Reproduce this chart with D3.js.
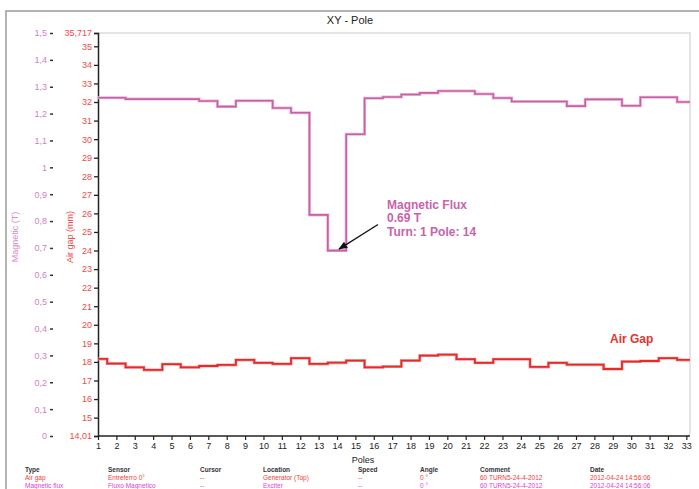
<!DOCTYPE html>
<html><head><meta charset="utf-8">
<script src="https://cdn.jsdelivr.net/npm/d3@7"></script>
<style>
html,body{margin:0;padding:0;background:#fff;}
svg{display:block;font-family:"Liberation Sans",Arial,sans-serif;}
</style></head>
<body><svg id="c" width="699" height="489"></svg>
<script>
const poles = d3.range(1, 34);
const magneticFlux = [1.259,1.259,1.254,1.254,1.254,1.254,1.247,1.226,1.248,1.248,1.221,1.203,0.823,0.69,1.123,1.257,1.262,1.271,1.277,1.284,1.284,1.273,1.258,1.245,1.245,1.245,1.228,1.253,1.253,1.229,1.261,1.261,1.243];
const airGap = [18.16,17.91,17.71,17.57,17.88,17.71,17.78,17.84,18.11,17.95,17.89,18.20,17.89,17.96,18.07,17.71,17.75,18.07,18.34,18.39,18.15,17.95,18.15,18.15,17.73,17.95,17.85,17.85,17.62,18.02,18.05,18.20,18.11];
const magTicks = [0,0.1,0.2,0.3,0.4,0.5,0.6,0.7,0.8,0.9,1,1.1,1.2,1.3,1.4,1.5];
const airTicks = [14.01,15,16,17,18,19,20,21,22,23,24,25,26,27,28,29,30,31,32,33,34,35,35.717];
const tableHeader = ["Type","Sensor","Cursor","Location","Speed","Angle","Comment","Date"];
const tableAir = ["Air gap","Entreferro 0°","--","Generator (Top)","--","0 °","60 TURN5-24-4-2012","2012-04-24 14:56:06"];
const tableMag = ["Magnetic flux","Fluxo Magnetico","--","Exciter","--","0 °","60 TURN5-24-4-2012","2012-04-24 14:56:06"];

const svg = d3.select("#c");
const L=98, R=690, T=33, B=436;
const x = d3.scaleLinear().domain([1,33.2]).range([L,R]);
const yAir = d3.scaleLinear().domain([14.01,35.717]).range([B,T]);
const yMag = d3.scaleLinear().domain([0,1.5]).range([B,T]);
const fmt = v => String(+v.toFixed(3)).replace(".",",");

// outer frame
svg.append("path").attr("d","M6,489 L6,11 L699,11").attr("fill","none").attr("stroke","#9a9a9a").attr("stroke-width",1.5);
// plot frame
svg.append("path").attr("d",`M${L},${T} L${R},${T} L${R},${B-4} Q${R},${B} ${R-4},${B}`).attr("fill","none").attr("stroke","#dcdcdc").attr("stroke-width",1.5);

svg.append("text").attr("x",350).attr("y",24).attr("text-anchor","middle").attr("font-size",11).attr("fill","#222").text("XY - Pole");

svg.append("defs").append("clipPath").attr("id","clip").append("rect").attr("x",L).attr("y",T-5).attr("width",R-L).attr("height",B-T+10);

// magnetic axis
const gm = svg.append("g").attr("transform","translate(53,0)")
  .call(d3.axisLeft(yMag).tickValues(magTicks).tickSize(3).tickPadding(3).tickFormat(fmt));
gm.select(".domain").remove();
gm.selectAll("line").attr("stroke","#333").attr("stroke-width",1.5);
gm.selectAll("text").attr("fill","#d27fc0").attr("font-size",9).attr("font-family","Liberation Sans, Arial");

// air gap axis
const ga = svg.append("g").attr("transform",`translate(${L},0)`)
  .call(d3.axisLeft(yAir).tickValues(airTicks).tickSize(4).tickPadding(2).tickFormat(fmt));
ga.select(".domain").attr("stroke","#222").attr("stroke-width",1.5);
ga.selectAll("line").attr("stroke","#222").attr("stroke-width",1.3);
ga.selectAll("text").attr("fill","#f04a4a").attr("font-size",9).attr("font-family","Liberation Sans, Arial");

// x axis
const gx = svg.append("g").attr("transform",`translate(0,${B})`)
  .call(d3.axisBottom(x).tickValues(poles).tickSize(4).tickPadding(3).tickFormat(d3.format("d")));
gx.select(".domain").attr("d",`M${L},0H${R}`).attr("stroke","#222").attr("stroke-width",1.5);
gx.selectAll("line").attr("stroke","#222").attr("stroke-width",1.2);
gx.selectAll("text").attr("fill","#222").attr("font-size",9).attr("font-family","Liberation Sans, Arial");
svg.append("text").attr("x",363).attr("y",463).attr("text-anchor","middle").attr("font-size",9).attr("fill","#222").text("Poles");

// axis titles
svg.append("text").attr("transform","translate(18,237) rotate(-90)").attr("text-anchor","middle").attr("font-size",9).attr("fill","#d68cc8").text("Magnetic (T)");
svg.append("text").attr("transform","translate(73,237) rotate(-90)").attr("text-anchor","middle").attr("font-size",9).attr("fill","#f04a4a").text("Air gap (mm)");

// step lines
function stepPts(vals, ys){ const p=[]; vals.forEach((v,i)=>{p.push([x(poles[i]-0.5),ys(v)]);p.push([x(poles[i]+0.5),ys(v)]);}); return p; }
const line = d3.line();
const gl = svg.append("g").attr("clip-path","url(#clip)");
gl.append("path").attr("d",line(stepPts(magneticFlux,yMag))).attr("fill","none").attr("stroke","#e8b8da").attr("stroke-width",3);
gl.append("path").attr("d",line(stepPts(magneticFlux,yMag))).attr("fill","none").attr("stroke","#c95fa6").attr("stroke-width",1.6);
gl.append("path").attr("d",line(stepPts(airGap,yAir))).attr("fill","none").attr("stroke","#f4a0a0").attr("stroke-width",3);
gl.append("path").attr("d",line(stepPts(airGap,yAir))).attr("fill","none").attr("stroke","#e62a2a").attr("stroke-width",1.8);

// annotation
const ann = svg.append("g").attr("font-size",12).attr("font-weight","bold").attr("fill","#c863ac");
["Magnetic Flux","0.69 T","Turn: 1 Pole: 14"].forEach((t,i)=>ann.append("text").attr("x",387).attr("y",209+i*13.3).text(t));
svg.append("defs").append("marker").attr("id","ah").attr("viewBox","0 0 10 10").attr("refX",9).attr("refY",5)
  .attr("markerWidth",7).attr("markerHeight",7).attr("orient","auto").append("path").attr("d","M0,1 L10,5 L0,9 Z").attr("fill","#111");
const px = x(14), py = yMag(magneticFlux[13]);
svg.append("line").attr("x1",378).attr("y1",224.5).attr("x2",px+2).attr("y2",py-1.5).attr("stroke","#111").attr("stroke-width",1.3).attr("marker-end","url(#ah)");

svg.append("text").attr("x",610).attr("y",343).attr("font-size",12).attr("font-weight","bold").attr("fill","#e83232").text("Air Gap");

// table
const cols = [25,108,200,263,358,420,480,590];
const tb = svg.append("g").attr("font-size",6.5);
tableHeader.forEach((t,i)=>tb.append("text").attr("x",cols[i]).attr("y",472).attr("font-weight","bold").attr("fill","#333").text(t));
tableAir.forEach((t,i)=>tb.append("text").attr("x",cols[i]).attr("y",480).attr("fill","#f04040").text(t));
tableMag.forEach((t,i)=>tb.append("text").attr("x",cols[i]).attr("y",488).attr("fill","#e040e0").text(t));
</script></body></html>
